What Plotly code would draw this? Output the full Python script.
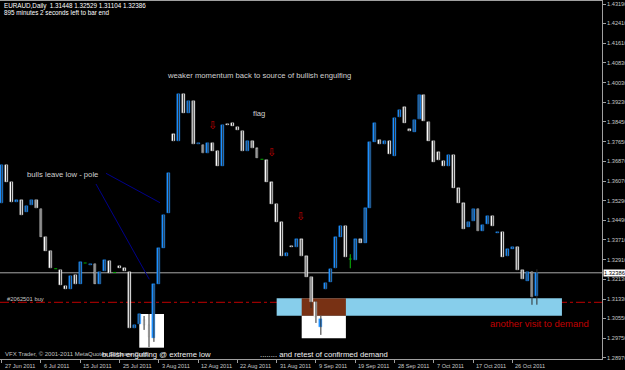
import pandas as pd
import plotly.graph_objects as go

# ---------------- data ----------------
# MT4 daily bars (Sunday sessions included, Saturdays absent)
all_days = pd.date_range("2011-06-27", "2011-11-01", freq="D")
bar_dates = [d for d in all_days if d.dayofweek != 5]

opens = [1.3518, 1.3672, 1.3605, 1.3524, 1.3530, 1.3484, 1.3511, 1.3532, 1.3495, 1.3383,
         1.3326, 1.3255, 1.3250, 1.3187, 1.3174, 1.3230, 1.3195, 1.3278, 1.3269, 1.3275,
         1.3195, 1.3246, 1.3286, 1.3240, 1.3267, 1.3257, 1.3241, 1.3016, 1.3032, 1.3049,
         1.3029, 1.2975, 1.3195, 1.3340, 1.3480, 1.3795, 1.3768, 1.3957, 1.3882, 1.3930,
         1.3755, 1.3752, 1.3719, 1.3762, 1.3728, 1.3669, 1.3837, 1.3841, 1.3826, 1.3809,
         1.3728, 1.3768, 1.3739, 1.3695, 1.3691, 1.3602, 1.3515, 1.3442, 1.3307, 1.3346,
         1.3342, 1.3373, 1.3305, 1.3220, 1.3120, 1.3022, 1.3172, 1.3203, 1.3257, 1.3384,
         1.3427, 1.3294, 1.3290, 1.3373, 1.3360, 1.3500, 1.3766, 1.3772, 1.3755, 1.3768,
         1.3709, 1.3864, 1.3904, 1.3815, 1.3806, 1.3855, 1.3953, 1.3846, 1.3770, 1.3723,
         1.3688, 1.3668, 1.3712, 1.3578, 1.3518, 1.3424, 1.3447, 1.3495, 1.3407, 1.3434,
         1.3467, 1.3400, 1.3404, 1.3306, 1.3336, 1.3342, 1.3249, 1.3207, 1.3243, 1.31448]
highs = [1.3672, 1.3672, 1.3605, 1.3530, 1.3530, 1.3507, 1.3532, 1.3532, 1.3495, 1.3383,
         1.3326, 1.3255, 1.3250, 1.3187, 1.3227, 1.3230, 1.3281, 1.3278, 1.3275, 1.3275,
         1.3243, 1.3289, 1.3286, 1.3240, 1.3267, 1.3257, 1.3241, 1.3029, 1.3072, 1.3065,
         1.3073, 1.3192, 1.3337, 1.3471, 1.3639, 1.3795, 1.3957, 1.3957, 1.3930, 1.3930,
         1.3762, 1.3752, 1.3762, 1.3762, 1.3728, 1.3833, 1.3837, 1.3841, 1.3826, 1.3809,
         1.3768, 1.3768, 1.3739, 1.3695, 1.3691, 1.3602, 1.3515, 1.3442, 1.3318, 1.3346,
         1.3373, 1.3373, 1.3305, 1.3222, 1.3125, 1.3065, 1.3199, 1.3254, 1.3381, 1.3427,
         1.3427, 1.3313, 1.3373, 1.3373, 1.3498, 1.3766, 1.3840, 1.3772, 1.3768, 1.3768,
         1.3862, 1.3893, 1.3904, 1.3815, 1.3853, 1.3953, 1.3953, 1.3846, 1.3770, 1.3723,
         1.3688, 1.3712, 1.3712, 1.3578, 1.3518, 1.3444, 1.3495, 1.3495, 1.3431, 1.3467,
         1.3467, 1.3404, 1.3404, 1.3333, 1.3342, 1.3342, 1.3249, 1.3243, 1.3243, 1.32529]
lows = [1.3518, 1.3605, 1.3522, 1.3524, 1.3471, 1.3484, 1.3511, 1.3498, 1.3384, 1.3327,
        1.3257, 1.3255, 1.3190, 1.3174, 1.3174, 1.3192, 1.3195, 1.3278, 1.3269, 1.3195,
        1.3195, 1.3246, 1.3237, 1.3240, 1.3259, 1.3247, 1.3016, 1.3016, 1.3032, 1.3009,
        1.2940, 1.2961, 1.3195, 1.3340, 1.3480, 1.3768, 1.3768, 1.3882, 1.3882, 1.3755,
        1.3755, 1.3719, 1.3719, 1.3729, 1.3669, 1.3669, 1.3834, 1.3830, 1.3813, 1.3728,
        1.3728, 1.3739, 1.3701, 1.3695, 1.3605, 1.3516, 1.3444, 1.3307, 1.3307, 1.3343,
        1.3342, 1.3305, 1.3223, 1.3097, 1.3037, 1.2989, 1.3172, 1.3203, 1.3257, 1.3384,
        1.3302, 1.3257, 1.3290, 1.3360, 1.3360, 1.3500, 1.3766, 1.3755, 1.3755, 1.3716,
        1.3709, 1.3864, 1.3842, 1.3807, 1.3806, 1.3855, 1.3849, 1.3770, 1.3685, 1.3691,
        1.3668, 1.3668, 1.3581, 1.3520, 1.3415, 1.3424, 1.3447, 1.3407, 1.3407, 1.3434,
        1.3427, 1.3400, 1.3303, 1.3306, 1.3336, 1.3250, 1.3214, 1.3207, 1.3110, 1.31104]
closes = [1.3672, 1.3605, 1.3522, 1.3530, 1.3471, 1.3507, 1.3532, 1.3498, 1.3384, 1.3327,
          1.3257, 1.3255, 1.3190, 1.3174, 1.3227, 1.3192, 1.3281, 1.3278, 1.3275, 1.3195,
          1.3243, 1.3289, 1.3237, 1.3240, 1.3259, 1.3247, 1.3016, 1.3029, 1.3072, 1.3029,
          1.2979, 1.3192, 1.3337, 1.3471, 1.3639, 1.3768, 1.3957, 1.3882, 1.3930, 1.3755,
          1.3762, 1.3719, 1.3762, 1.3729, 1.3669, 1.3833, 1.3834, 1.3830, 1.3813, 1.3728,
          1.3768, 1.3739, 1.3701, 1.3695, 1.3605, 1.3516, 1.3444, 1.3307, 1.3318, 1.3343,
          1.3373, 1.3305, 1.3223, 1.3122, 1.3062, 1.3052, 1.3199, 1.3254, 1.3381, 1.3427,
          1.3302, 1.3294, 1.3373, 1.3360, 1.3498, 1.3766, 1.3840, 1.3755, 1.3768, 1.3716,
          1.3862, 1.3893, 1.3842, 1.3807, 1.3853, 1.3953, 1.3849, 1.3770, 1.3685, 1.3691,
          1.3668, 1.3712, 1.3581, 1.3520, 1.3415, 1.3444, 1.3495, 1.3407, 1.3431, 1.3467,
          1.3427, 1.3404, 1.3303, 1.3333, 1.3342, 1.3250, 1.3214, 1.3243, 1.3143, 1.32386]

tick_dates = ["2011-06-27", "2011-07-06", "2011-07-15", "2011-07-25", "2011-08-03",
              "2011-08-12", "2011-08-22", "2011-08-31", "2011-09-09", "2011-09-19",
              "2011-09-28", "2011-10-07", "2011-10-17", "2011-10-26"]
tick_labels = ["27 Jun 2011", "6 Jul 2011", "15 Jul 2011", "25 Jul 2011", "3 Aug 2011",
               "12 Aug 2011", "22 Aug 2011", "31 Aug 2011", "9 Sep 2011", "19 Sep 2011",
               "28 Sep 2011", "7 Oct 2011", "17 Oct 2011", "26 Oct 2011"]
price_ticks = [1.43190, 1.42410, 1.41610, 1.40830, 1.40030, 1.39230, 1.38450, 1.37650,
               1.36870, 1.36070, 1.35290, 1.34490, 1.33710, 1.32910, 1.32130, 1.31330,
               1.30550, 1.29750, 1.28970]

current_price = 1.32386
order_price = 1.31200
demand_zone = (1.30662, 1.31361)

# ---------------- styles ----------------
BULL = "#1E90FF"
BEAR = "#FFFFFF"
DOJI = "#00B000"
WICK = "#2E2E2E"
TXT = "#D0D0D0"
AX = "#A0A0A0"
FONT = "Liberation Sans"

n = len(opens)
xs = list(range(n))
tickvals = [bar_dates.index(pd.Timestamp(d)) for d in tick_dates]

fig = go.Figure()

# wicks
wx, wy = [], []
for i in xs:
    wx += [i, i, None]
    wy += [lows[i], highs[i], None]
fig.add_trace(go.Scatter(x=wx, y=wy, mode="lines", line=dict(color=WICK, width=1),
                         hoverinfo="skip"))

# bodies
bx, bbase, bh, bcol, blc = [], [], [], [], []
for i in xs:
    if opens[i] == closes[i]:
        continue
    bx.append(i)
    lo = min(opens[i], closes[i])
    bbase.append(lo)
    bh.append(max(abs(closes[i] - opens[i]), 0.0004))
    up = closes[i] > opens[i]
    bcol.append(BULL if up else BEAR)
    blc.append("#1E90FF" if up else "#D8D8D8")
fig.add_trace(go.Bar(x=bx, y=bh, base=bbase, width=0.6,
                     marker=dict(color=bcol, line=dict(color=blc, width=0.4)),
                     hoverinfo="skip"))

# dojis
dx, dy = [], []
for i in xs:
    if opens[i] == closes[i]:
        dx += [i, i, None, i - 0.3, i + 0.3, None]
        dy += [lows[i], highs[i], None, opens[i], opens[i], None]
fig.add_trace(go.Scatter(x=dx, y=dy, mode="lines", line=dict(color=DOJI, width=1),
                         hoverinfo="skip"))

# ---------------- objects ----------------
shapes = [
    dict(type="rect", xref="x", yref="y", x0=56.0, x1=114.1, y0=demand_zone[0], y1=demand_zone[1],
         fillcolor="#87CEEB", line=dict(width=0), layer="below"),
    dict(type="rect", xref="x", yref="y", x0=61.1, x1=70.1, y0=1.29754, y1=demand_zone[0],
         fillcolor="#FFFFFF", line=dict(width=0), layer="below"),
    dict(type="rect", xref="x", yref="y", x0=61.1, x1=70.1, y0=demand_zone[0], y1=demand_zone[1],
         fillcolor="#783114", line=dict(width=0), layer="below"),
    dict(type="rect", xref="x", yref="y", x0=28.02, x1=33.05, y0=1.29376, y1=1.30730,
         fillcolor="#FFFFFF", line=dict(width=0), layer="below"),
    dict(type="line", xref="paper", yref="y", x0=0, x1=1, y0=current_price, y1=current_price,
         line=dict(color="#A8A8A8", width=1), layer="below"),
    dict(type="line", xref="paper", yref="y", x0=0, x1=1, y0=order_price, y1=order_price,
         line=dict(color="#C00000", width=1, dash="dashdot"), layer="below"),
    dict(type="line", xref="x", yref="y", x0=21.24, y0=1.36385, x1=32.24, y1=1.35204,
         line=dict(color="#00008B", width=1), layer="below"),
    dict(type="line", xref="x", yref="y", x0=19.2, y0=1.35955, x1=30.06, y1=1.32125,
         line=dict(color="#00008B", width=1), layer="below"),
]

def note(text, x, y, size=7.7, color=TXT, xref="x", yref="y", anchor="middle"):
    return dict(text=text, x=x, y=y, xref=xref, yref=yref, xanchor="left", yanchor=anchor,
                showarrow=False, font=dict(family=FONT, size=size, color=color))

annotations = [
    note("EURAUD,Daily  1.31448 1.32529 1.31104 1.32386", 0.004, 0.987, size=6.3,
         color="#FFFFFF", xref="paper", yref="paper"),
    note("895 minutes 2 seconds left to bar end", 0.004, 0.9665, size=6.3,
         color="#FFFFFF", xref="paper", yref="paper"),
    note("VFX Trader, © 2001-2011 MetaQuotes Software Corp.", 0.005, 0.014, size=6.0,
         color="#C0C0C0", xref="paper", yref="paper"),
    note("weaker momentum back to source of bullish engulfing", 33.3, 1.4031),
    note("flag", 50.8, 1.3878),
    note("bulls leave low - pole", 4.75, 1.3635),
    note("bullish engulfing @ extreme low", 20.0, 1.2912, color="#F0F0F0"),
    note("........ and retest of confirmed demand", 52.2, 1.2912, color="#F0F0F0"),
    note("another visit to demand", 99.0, 1.3036, size=9.5, color="#C00000"),
    note("#2062501 buy", 0.67, 1.3133, size=5.8, color="#C8C8C8"),
    dict(text="1.32386", x=1.0, y=current_price, xref="paper", yref="y", xanchor="left",
         yanchor="middle", showarrow=False, bgcolor="#FFFFFF", borderpad=0, xshift=1,
         font=dict(family=FONT, size=5.8, color="#000000")),
]
# date labels of the time axis, written just right of each tick (MT4 style)
for tv, tl in zip(tickvals, tick_labels):
    annotations.append(dict(text=tl, x=tv, y=0, xref="x", yref="paper", xanchor="left",
                            yanchor="top", xshift=1, yshift=-2, showarrow=False,
                            font=dict(family=FONT, size=5.6, color="#C8C8C8")))
for ax_, ay_ in [(42.83, 1.3831), (54.85, 1.3724), (60.8, 1.3466)]:
    annotations.append(dict(text="⇩", x=ax_, y=ay_, xref="x", yref="y", showarrow=False,
                            xanchor="center", yanchor="middle",
                            font=dict(family="DejaVu Sans", size=11, color="#C00000")))

fig.update_layout(
    template="none",
    width=625, height=370,
    margin=dict(l=0, r=23, t=1, b=11, pad=0),
    paper_bgcolor="#000000", plot_bgcolor="#000000",
    showlegend=False, bargap=0,
    shapes=shapes, annotations=annotations,
    xaxis=dict(range=[-0.346, 122.26], tickvals=tickvals, ticktext=[""] * len(tickvals),
               ticks="outside", ticklen=3, tickcolor=AX, tickwidth=1,
               showgrid=False, zeroline=False, showline=True, linecolor=AX,
               linewidth=1, mirror=True, automargin=False, fixedrange=True),
    yaxis=dict(range=[1.28921, 1.43311], side="right", tickvals=price_ticks,
               ticktext=[f"{p:.5f}" for p in price_ticks],
               ticks="outside", ticklen=3, tickcolor=AX, tickwidth=1,
               tickfont=dict(family=FONT, size=5.6, color="#C8C8C8"),
               showgrid=False, zeroline=False, showline=True, linecolor=AX,
               linewidth=1, mirror=True, automargin=False, fixedrange=True),
)

fig.write_html("out.html")
